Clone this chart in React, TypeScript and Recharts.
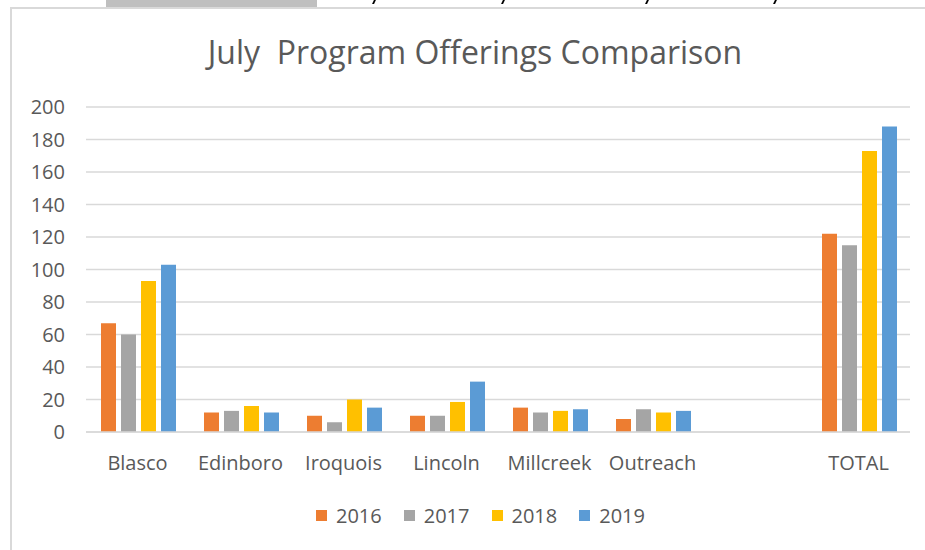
import { BarChart, Bar, XAxis, YAxis, CartesianGrid } from "recharts";

// program sites (the blank one is the empty slot Excel left before TOTAL)
const categories = ["Blasco", "Edinboro", "Iroquois", "Lincoln", "Millcreek", "Outreach", "", "TOTAL"];
const y2016 = [67, 12, 10, 10, 15, 8, null, 122];
const y2017 = [60, 13, 6, 10, 12, 14, null, 115];
const y2018 = [93, 16, 20, 18.5, 13, 12, null, 173];
const y2019 = [103, 12, 15, 31, 14, 13, null, 188];
const yTicks = [0, 20, 40, 60, 80, 100, 120, 140, 160, 180, 200];

const series = [
  { key: "y2016", name: "2016", color: "#ED7D31" },
  { key: "y2017", name: "2017", color: "#A5A5A5" },
  { key: "y2018", name: "2018", color: "#FFC000" },
  { key: "y2019", name: "2019", color: "#5B9BD5" },
];

const data = categories.map((name, i) => ({
  name,
  y2016: y2016[i],
  y2017: y2017[i],
  y2018: y2018[i],
  y2019: y2019[i],
}));

const FONT = "'Open Sans', sans-serif";
const TEXT = "#595959";

export default function App() {
  return (
    <div
      style={{
        position: "absolute",
        left: 0,
        top: 0,
        width: 925,
        height: 550,
        background: "#fff",
        overflow: "hidden",
        fontFamily: FONT,
      }}
    >
      {/* bits of the spreadsheet peeking above the chart */}
      <div style={{ position: "absolute", left: 106, top: 0, width: 211, height: 7, background: "#BFBFBF" }} />
      {[374, 503, 647, 775].map((x) => (
        <div
          key={x}
          style={{
            position: "absolute",
            left: x - 1,
            top: 0,
            width: 2,
            height: 4,
            background: "#000",
            transform: "skewX(-25deg)",
          }}
        />
      ))}
      {/* chart frame */}
      <div style={{ position: "absolute", left: 10, top: 7, width: 915, height: 2, background: "#D9D9D9" }} />
      <div style={{ position: "absolute", left: 10, top: 7, width: 2, height: 543, background: "#D9D9D9" }} />

      <div
        style={{
          position: "absolute",
          left: 0,
          width: 950,
          top: 30,
          textAlign: "center",
          fontSize: 32,
          color: TEXT,
          whiteSpace: "pre",
        }}
      >
        {"July  Program Offerings Comparison"}
      </div>

      <div style={{ position: "absolute", left: 0, top: 0 }}>
        <BarChart
          width={925}
          height={550}
          data={data}
          margin={{ top: 107, right: 15, left: 0, bottom: 0 }}
          barCategoryGap={15}
          barGap={5}
        >
          <CartesianGrid vertical={false} stroke="#D9D9D9" strokeWidth={1.5} />
          <XAxis
            dataKey="name"
            height={118}
            tickSize={0}
            tickMargin={24}
            axisLine={{ stroke: "#D9D9D9", strokeWidth: 1.5 }}
            tick={{ fill: TEXT, fontSize: 20, fontFamily: FONT }}
            interval={0}
          />
          <YAxis
            width={86}
            domain={[0, 200]}
            ticks={yTicks}
            tickSize={0}
            tickMargin={21}
            axisLine={false}
            tick={{ fill: TEXT, fontSize: 20, fontFamily: FONT }}
          />
          {series.map((s) => (
            <Bar key={s.key} dataKey={s.key} name={s.name} fill={s.color} isAnimationActive={false} />
          ))}
        </BarChart>
      </div>

      <div
        style={{
          position: "absolute",
          left: 316,
          top: 502,
          display: "flex",
          alignItems: "center",
          fontSize: 20,
          color: TEXT,
        }}
      >
        {series.map((s) => (
          <div key={s.key} style={{ display: "flex", alignItems: "center", marginRight: 22 }}>
            <div style={{ width: 11, height: 11, background: s.color, marginRight: 9 }} />
            <span>{s.name}</span>
          </div>
        ))}
      </div>
    </div>
  );
}
